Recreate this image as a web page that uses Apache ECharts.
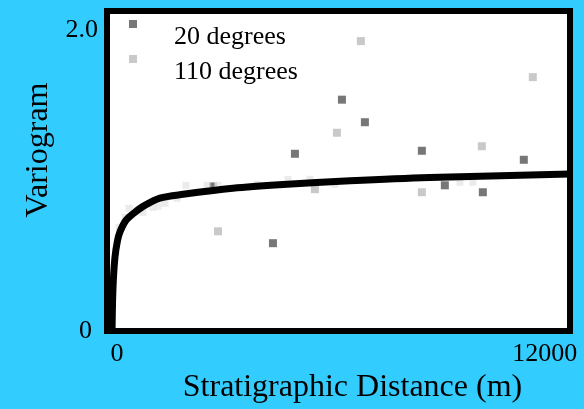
<!DOCTYPE html>
<html>
<head>
  <meta charset="utf-8">
  <title>Variogram</title>
  <script src="https://cdn.jsdelivr.net/npm/echarts/dist/echarts.min.js"></script>
  <style>
    html, body { margin: 0; padding: 0; background: #33ccff; }
    #chart { width: 584px; height: 409px; }
  </style>
</head>
<body>
  <div id="chart"></div>
  <script>
    // 20 degrees (dark points)
    var pts20 = [
      [6375, 1.54], [7012, 1.39], [5072, 1.18], [4462, 0.585], [8592, 1.20],
      [11419, 1.14], [10283, 0.924], [2799, 0.963], [9229, 0.970]
    ];
    // 110 degrees (light points)
    var pts110 = [
      [6236, 1.32], [6901, 1.93], [10255, 1.23], [11669, 1.69], [8592, 0.924],
      [2938, 0.664], [5626, 0.944]
    ];
    // faint points along the curve
    var faint110 = [
      [194, 0.69], [360, 0.757], [471, 0.817], [859, 0.79], [1136, 0.824],
      [1275, 0.831], [1469, 0.85], [1802, 0.884], [2051, 0.97], [2633, 0.97],
      [2938, 0.97], [4019, 0.977], [4878, 1.01], [5488, 1.01], [6181, 0.977],
      [9645, 0.99], [10006, 0.99]
    ];
    // fitted model curve
    var modelX = [0, 25, 80, 150, 220, 380, 580, 860, 1330, 1970, 3350, 4740, 6600, 8800, 12700];
    var modelY = [0, 0.28, 0.49, 0.60, 0.66, 0.735, 0.78, 0.83, 0.885, 0.91, 0.95, 0.975, 1.0, 1.022, 1.045];
    var xTicks = [0, 12000];
    var yTicks = [0, 2.0];

    var curve = modelX.map(function (x, i) { return [x, modelY[i]]; });
    var serif = 'Liberation Serif';

    // one legend per entry so the two rows can be spaced freely
    function legendRow(name, top) {
      return {
        data: [name],
        left: 129,
        top: top,
        padding: 0,
        itemWidth: 8,
        itemHeight: 8,
        formatter: function (n) { return '\n' + n; },
        textStyle: {
          fontFamily: serif,
          fontSize: 26,
          color: '#000',
          padding: [0, 0, 0, 32]
        }
      };
    }

    var chart = echarts.init(document.getElementById('chart'));
    var option = {
      backgroundColor: '#33ccff',
      animation: false,
      textStyle: { fontFamily: serif },
      grid: {
        left: 107, right: 14, top: 11, bottom: 77,
        show: true,
        backgroundColor: '#ffffff',
        borderColor: '#000000',
        borderWidth: 6
      },
      legend: [legendRow('20 degrees', -2), legendRow('110 degrees', 33)],
      xAxis: {
        type: 'value',
        min: -140,
        max: 12700,
        splitLine: { show: false },
        axisLine: { show: false },
        axisTick: { show: false },
        axisLabel: {
          customValues: xTicks,
          margin: 10,
          fontFamily: serif,
          fontSize: 26,
          color: '#000',
          formatter: function (v) { return v === 0 ? '{z|0}' : String(v); },
          rich: { z: { fontFamily: serif, fontSize: 26, color: '#000', padding: [0, 0, 0, 10] } }
        },
        name: 'Stratigraphic Distance (m)',
        nameLocation: 'middle',
        nameGap: 36,
        nameTextStyle: { fontFamily: serif, fontSize: 32, color: '#000', padding: [0, 0, 0, 28] }
      },
      yAxis: {
        type: 'value',
        min: 0,
        max: 2.13,
        splitLine: { show: false },
        axisLine: { show: false },
        axisTick: { show: false },
        axisLabel: {
          customValues: yTicks,
          margin: 9,
          fontFamily: serif,
          fontSize: 26,
          color: '#000',
          formatter: function (v) { return v === 0 ? '{z|0}' : v.toFixed(1); },
          rich: { z: { fontFamily: serif, fontSize: 26, color: '#000', padding: [0, 6, 0, 0] } }
        },
        name: 'Variogram',
        nameLocation: 'middle',
        nameGap: 50,
        nameTextStyle: { fontFamily: serif, fontSize: 32, color: '#000', padding: [0, 0, 0, 42] }
      },
      series: [
        {
          name: '20 degrees',
          type: 'scatter',
          symbol: 'rect',
          symbolSize: 8,
          itemStyle: { color: '#555555' },
          data: pts20
        },
        {
          name: '110 degrees',
          type: 'scatter',
          symbol: 'rect',
          symbolSize: 8,
          itemStyle: { color: '#bbbbbb' },
          data: pts110
        },
        {
          name: 'faint',
          type: 'scatter',
          symbol: 'rect',
          symbolSize: 7,
          itemStyle: { color: '#e6e6e6' },
          data: faint110
        },
        {
          name: 'model',
          type: 'line',
          smooth: 0.3,
          showSymbol: false,
          lineStyle: { color: '#000', width: 7 },
          data: curve,
          z: 5
        }
      ]
    };
    chart.setOption(option);
  </script>
</body>
</html>
